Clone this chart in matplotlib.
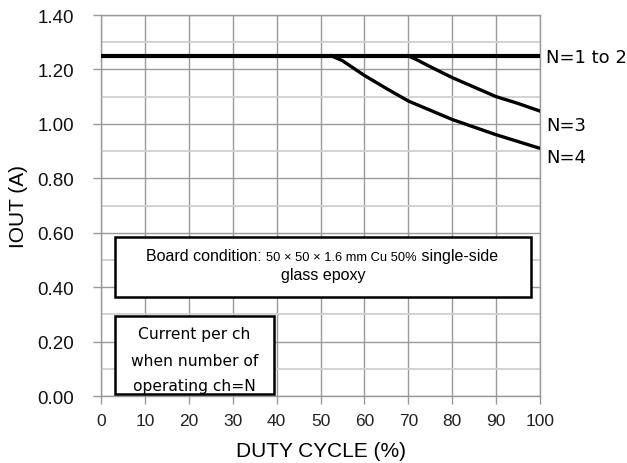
import numpy as np
import matplotlib
matplotlib.use("Agg")
import matplotlib.pyplot as plt
from matplotlib.patches import Rectangle
from matplotlib.transforms import offset_copy

# duty cycle (%) vs output current per channel (A)
duty_n12 = [0, 100]
iout_n12 = [1.25, 1.25]

duty_n3 = [70, 72, 75, 80, 85, 90, 95, 100]
iout_n3 = [1.25, 1.235, 1.21, 1.17, 1.135, 1.10, 1.075, 1.047]

duty_n4 = [52.5, 55, 60, 65, 70, 75, 80, 85, 90, 95, 100]
iout_n4 = [1.25, 1.232, 1.178, 1.13, 1.084, 1.05, 1.016, 0.988, 0.96, 0.935, 0.91]

curve_labels = ["N=1 to 2", "N=3", "N=4"]
x_ticks = list(range(0, 101, 10))
y_ticks = [0.0, 0.2, 0.4, 0.6, 0.8, 1.0, 1.2, 1.4]

fig = plt.figure(figsize=(6.27, 4.64), dpi=100)
ax = fig.add_axes([101 / 627, 1 - 397 / 464, 439 / 627, 381 / 464])

ax.set_xlim(0, 100)
ax.set_ylim(0, 1.4)
ax.set_xticks(x_ticks)
ax.set_yticks(y_ticks)
ax.set_yticks(np.arange(0.1, 1.4, 0.2), minor=True)
ax.set_xticklabels([str(v) for v in x_ticks], family="Liberation Sans", fontsize=12.5, color="#222222")
ax.set_yticklabels([f"{v:.2f}" for v in y_ticks], family="Liberation Sans", fontsize=13.5, color="#111111")
ax.tick_params(axis="both", which="major", length=6, color="#999999", width=1)
ax.tick_params(axis="y", which="major", pad=13.5)
ax.tick_params(axis="x", which="major", pad=6.5)
ax.tick_params(axis="y", which="minor", length=0)

ax.grid(True, which="major", color="#999999", linewidth=1)
ax.grid(True, which="minor", axis="y", color="#d0d0d0", linewidth=1.3)
for s in ax.spines.values():
    s.set_color("#999999")
    s.set_linewidth(1)
ax.set_axisbelow(True)

ax.plot(duty_n12, iout_n12, color="black", lw=3, solid_capstyle="butt", zorder=4)
ax.plot(duty_n3, iout_n3, color="black", lw=2.4, zorder=4)
ax.plot(duty_n4, iout_n4, color="black", lw=2.4, zorder=4)

ends = [(iout_n12[-1], -0.005), (iout_n3[-1], -0.05), (iout_n4[-1], -0.03)]
for lab, (yv, dy) in zip(curve_labels, ends):
    ax.text(101.4, yv + dy, lab, family="DejaVu Sans", fontsize=13,
            va="center", ha="left", clip_on=False)

ax.set_xlabel("DUTY CYCLE (%)", family="Liberation Sans", fontsize=15, va="center")
ax.xaxis.set_label_coords(0.5, -(452 - 397) / 381)
ax.set_ylabel("IOUT (A)", family="Liberation Sans", fontsize=15, va="center")
ax.yaxis.set_label_coords((18.5 - 101) / 439, 0.5)

# board condition box
ax.add_patch(Rectangle((3.2, 0.363), 94.75, 0.221, facecolor="white",
                       edgecolor="black", lw=1.8, zorder=5))
pieces = [("Board condition: ", 11.5), ("50 × 50 × 1.6 mm Cu 50%", 9.3), (" single-side", 11.5)]
renderer = fig.canvas.get_renderer()
trans = ax.transData
for txt, fs in pieces:
    t = ax.text(10.2, 0.50, txt, family="Liberation Sans", fontsize=fs, zorder=6,
                va="baseline", ha="left", transform=trans)
    w = t.get_window_extent(renderer=renderer).width
    trans = offset_copy(trans, fig=fig, x=w, units="dots")
ax.text(50.6, 0.43, "glass epoxy", family="Liberation Sans", fontsize=11.5, zorder=6,
        va="baseline", ha="center")

# per-channel note box
ax.add_patch(Rectangle((3.2, 0.006), 36.2, 0.287, facecolor="white",
                       edgecolor="black", lw=1.8, zorder=5))
note_lines = ["Current per ch", "when number of", "operating ch=N"]
for txt, yb in zip(note_lines, [0.212, 0.114, 0.022]):
    ax.text(21.3, yb, txt, family="DejaVu Sans", fontsize=11.2, zorder=6,
            ha="center", va="baseline")

fig.savefig("out.png", dpi=100)
